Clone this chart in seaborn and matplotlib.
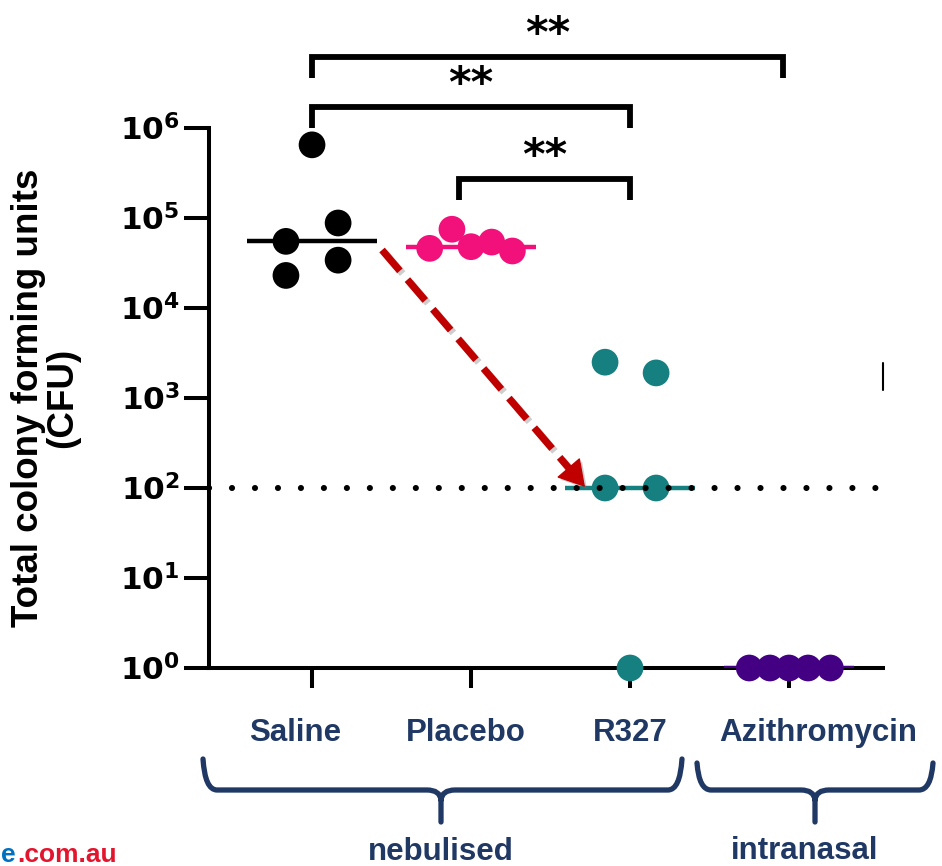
import numpy as np
import pandas as pd
import matplotlib
matplotlib.use("Agg")
import matplotlib.pyplot as plt
import seaborn as sns
from matplotlib.path import Path
from matplotlib.patches import PathPatch
from matplotlib.transforms import ScaledTranslation
import matplotlib.patheffects as pe

# ---------------- data ----------------
categories = ["Saline", "Placebo", "R327", "Azithromycin"]
saline = [6.5e5, 5.5e4, 8.8e4, 3.4e4, 2.3e4]
placebo = [7.5e4, 4.6e4, 4.8e4, 5.4e4, 4.3e4]
r327 = [2.5e3, 1.9e3, 1e2, 1e2, 1]
azithromycin = [1, 1, 1, 1, 1]
detection_limit = 1e2
y_exponents = [0, 1, 2, 3, 4, 5, 6]
route_labels = ["nebulised", "intranasal"]
comparisons = [("Saline", "Azithromycin"), ("Saline", "R327"), ("Placebo", "R327")]
sig_labels = ["**", "**", "**"]

# ---------------- style / layout ----------------
colors = ["#000000", "#F2107A", "#167F7F", "#430082"]
navy = "#1F3864"
jitter = [
    [0.0, -0.164, 0.164, 0.164, -0.164],
    [-0.12, -0.26, 0.0, 0.13, 0.26],
    [-0.157, 0.164, -0.157, 0.164, 0.0],
    [-0.25, -0.12, 0.0, 0.12, 0.26],
]

sns.set_theme(style="white")
plt.rcParams["font.family"] = ["Liberation Sans", "DejaVu Sans"]

W, H = 942, 866
fig = plt.figure(figsize=(W / 100, H / 100), dpi=100)
ax = fig.add_axes([209 / W, (H - 668) / H, (883 - 209) / W, (668 - 128) / H])

series = [saline, placebo, r327, azithromycin]
rows = []
for i, (cat, vals) in enumerate(zip(categories, series)):
    for v, dx in zip(vals, jitter[i]):
        rows.append({"group": cat, "cfu": v, "pos": i + dx})
df = pd.DataFrame(rows)

ax.set_yscale("log")
sns.scatterplot(data=df, x="pos", y="cfu", hue="group", palette=dict(zip(categories, colors)),
                s=370, linewidth=0, legend=False, ax=ax, zorder=4, clip_on=False)

# medians
for i, vals in enumerate(series):
    ax.hlines(np.median(vals), i - 0.41, i + 0.41, color=colors[i], lw=3.2, zorder=3.5)

xl = (-0.648, 3.591)
ax.set_xlim(*xl)
ax.set_ylim(1, 1e6)

# detection limit dotted line
ax.plot(list(xl), [detection_limit] * 2, color="black", lw=4.4,
        ls=(0, (0.01, 3.75)), dash_capstyle="round", zorder=6, clip_on=False)

# spines / ticks
sns.despine(ax=ax)
for s in ["left", "bottom"]:
    ax.spines[s].set_linewidth(2.9)
    ax.spines[s].set_color("black")
ax.set_yticks([10.0 ** e for e in y_exponents])
ax.set_yticklabels([r"$\mathbf{10^{%d}}$" % e for e in y_exponents])
ax.yaxis.set_minor_locator(matplotlib.ticker.NullLocator())
ax.tick_params(axis="y", length=18, width=2.9, pad=3, labelsize=22.5, color="black", labelcolor="black")
ax.set_xticks(range(len(categories)))
ax.set_xticklabels(categories, fontsize=22.5, fontweight="bold", color=navy)
ax.tick_params(axis="x", length=14.5, width=2.9, pad=21.5, color="black", direction="out")
ax.tick_params(left=True, bottom=True)
for lab, off in zip(ax.get_xticklabels(), [-17, -5, 0, 29]):
    lab.set_transform(lab.get_transform() + ScaledTranslation(off / 100, 0, fig.dpi_scale_trans))
ax.set_xlabel("")

ax.set_ylabel("Total colony forming units\n(CFU)", fontsize=26.5, fontweight="bold",
              color="black", linespacing=1.0, va="center")
ax.yaxis.set_label_coords((45.5 - 209) / 674, 0.5)

# stray right-side mark
ax.plot([xl[1], xl[1]], [10 ** 3.39, 10 ** 3.09], color="black", lw=1.5, clip_on=False)

# significance brackets
def ylog(py):
    return 10 ** (6 + (128 - py) / 90)

def xpix(px):
    return (px - 312) / 159

bracket_levels = [57, 107, 179]
leg_drop = 21
trims = [(0.0, -0.04), (0.0, 0.0), (-0.075, 0.0)]
for (a, b), lab, lvl, (ta, tb) in zip(comparisons, sig_labels, bracket_levels, trims):
    xa = categories.index(a) + ta
    xb = categories.index(b) + tb
    ax.plot([xa, xa, xb, xb], [ylog(lvl + leg_drop), ylog(lvl), ylog(lvl), ylog(lvl + leg_drop)],
            color="black", lw=4.2, solid_joinstyle="miter", solid_capstyle="butt", clip_on=False)
    ax.annotate(lab, xy=((xa + xb) / 2, ylog(lvl)), xytext=(0, 15.5), textcoords="offset points",
                ha="center", va="center", fontsize=31, fontweight="bold", family="DejaVu Sans",
                color="black", annotation_clip=False)

# red dashed arrow (dashed shaft + solid head)
p0 = np.array([382.0, 250.0])
p1 = np.array([585.0, 487.0])
u = (p1 - p0) / np.linalg.norm(p1 - p0)
pb = p1 - 22 * u
shadow = [pe.SimpleLineShadow(offset=(2, -2), shadow_color="0.45", alpha=0.35), pe.Normal()]
ax.plot([xpix(p0[0]), xpix(pb[0])], [ylog(p0[1]), ylog(pb[1])], color="#C00000", lw=5.2,
        ls=(0, (3.8, 1.6)), solid_capstyle="butt", zorder=6, path_effects=shadow)
pc = p1 - 30 * u
arr = ax.annotate("", xy=(xpix(p1[0]), ylog(p1[1])), xytext=(xpix(pc[0]), ylog(pc[1])),
                  arrowprops=dict(arrowstyle="-|>,head_length=0.85,head_width=0.5", lw=1,
                                  color="#C00000", shrinkA=0, shrinkB=0, mutation_scale=20),
                  zorder=6)
arr.arrow_patch.set_path_effects([pe.SimplePatchShadow(offset=(2, -2), shadow_rgbFace="0.45", alpha=0.35),
                                  pe.Normal()])

# braces below the axis
def fxy(px, py):
    return (px / W, 1 - py / H)

def brace(x0, x1, xm, ytop, ybot, ytip):
    r = 14
    verts = [(x0, ytop), (x0 + 2, ybot), (x0 + r, ybot), (xm - r, ybot),
             (xm - 1, ybot), (xm, ybot + 10), (xm, ytip),
             (xm, ybot + 10), (xm + 1, ybot), (xm + r, ybot), (x1 - r, ybot),
             (x1 - 2, ybot), (x1, ytop)]
    codes = [Path.MOVETO, Path.CURVE3, Path.CURVE3, Path.LINETO,
             Path.CURVE3, Path.CURVE3, Path.LINETO,
             Path.MOVETO, Path.CURVE3, Path.CURVE3, Path.LINETO,
             Path.CURVE3, Path.CURVE3]
    p = Path([fxy(*v) for v in verts], codes)
    patch = PathPatch(p, transform=fig.transFigure, fill=False, lw=3.8, edgecolor=navy,
                      capstyle="round", joinstyle="round")
    fig.add_artist(patch)

brace(203, 682, 441, 759, 790, 822)
brace(697, 933, 815, 763, 790, 822)
fig.text(441 / W, 1 - 860 / H, route_labels[0], ha="center", va="baseline",
         fontsize=22.5, fontweight="bold", color=navy)
fig.text(805 / W, 1 - 859 / H, route_labels[1], ha="center", va="baseline",
         fontsize=22.5, fontweight="bold", color=navy)

# website fragment at bottom-left
fig.text(1 / W, 1 - 862 / H, "e", ha="left", va="baseline", fontsize=19, fontweight="bold", color="#0070C0")
fig.text(17 / W, 1 - 862 / H, ".com.au", ha="left", va="baseline", fontsize=19, fontweight="bold", color="#E3142D")

fig.savefig("out.png", dpi=100)
